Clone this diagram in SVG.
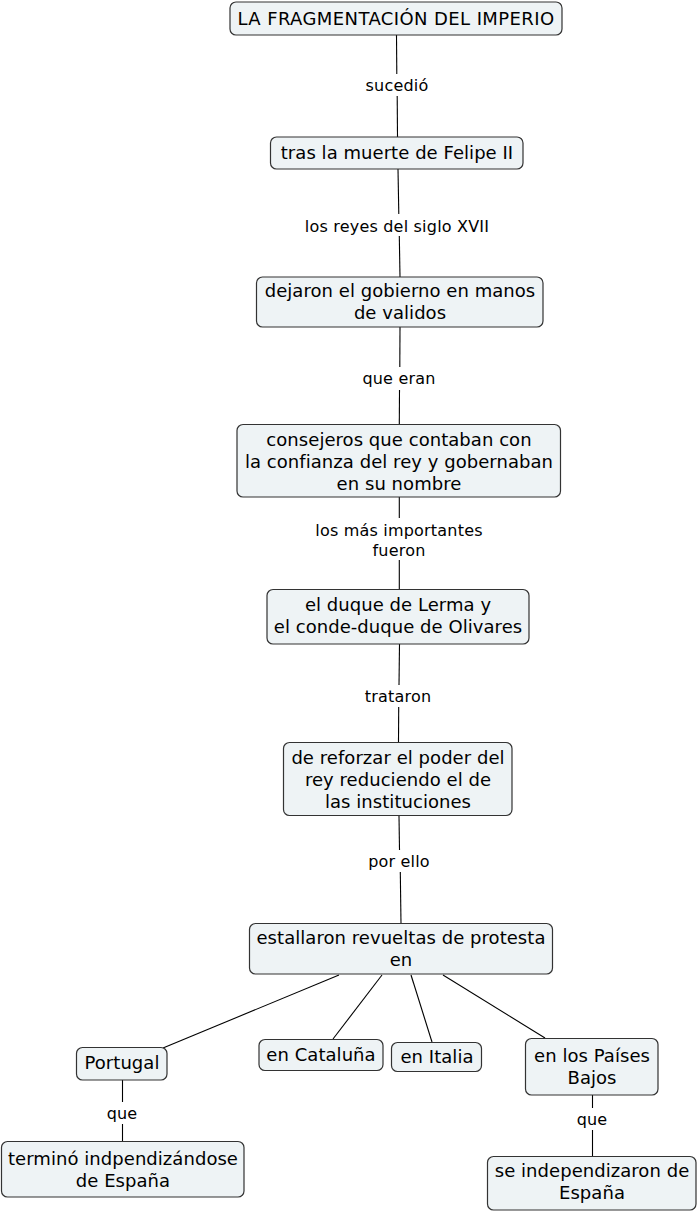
<svg xmlns="http://www.w3.org/2000/svg" width="698" height="1213" viewBox="0 0 698 1213">
<style>
.n rect{fill:#eef3f5;stroke:#333;stroke-width:1.2}
.n text{font-family:"DejaVu Sans",Verdana,sans-serif;font-size:18px;letter-spacing:0.05px;fill:#000;text-anchor:middle}
#n1 text{letter-spacing:0.4px}
.c line{stroke:#000;stroke-width:1.1}
.c text{font-family:"DejaVu Sans",Verdana,sans-serif;font-size:16px;letter-spacing:0.2px;fill:#000;text-anchor:middle}
</style>
<rect width="698" height="1213" fill="#fff"/>
<g class="c" id="connectors">
<line x1="396.5" y1="35" x2="396.8" y2="74"/><line x1="397.2" y1="96" x2="397.5" y2="137"/>
<text x="397" y="91">sucedió</text>
<line x1="398" y1="169" x2="398.8" y2="214"/><line x1="399.3" y1="236" x2="400" y2="277"/>
<text x="397" y="232">los reyes del siglo XVII</text>
<line x1="400" y1="327" x2="399.8" y2="367"/><line x1="399.5" y1="390" x2="399.3" y2="424"/>
<text x="399" y="384">que eran</text>
<line x1="399.3" y1="497" x2="399.3" y2="518"/><line x1="399.3" y1="560" x2="399.3" y2="589"/>
<text x="399" y="536">los más importantes</text>
<text x="399" y="556">fueron</text>
<line x1="399.5" y1="644" x2="399" y2="685"/><line x1="398.7" y1="707" x2="398.5" y2="742"/>
<text x="398" y="702">trataron</text>
<line x1="399" y1="816" x2="399.5" y2="850"/><line x1="400.3" y1="872" x2="401" y2="923"/>
<text x="399" y="867">por ello</text>
<line x1="339" y1="975" x2="163" y2="1048"/>
<line x1="382" y1="975" x2="333" y2="1039"/>
<line x1="411" y1="975" x2="432" y2="1042"/>
<line x1="443" y1="975" x2="545" y2="1038"/>
<line x1="122.5" y1="1080" x2="122.5" y2="1102"/><line x1="122.5" y1="1124" x2="122.5" y2="1142"/>
<text x="122" y="1119">que</text>
<line x1="592.5" y1="1095" x2="592.5" y2="1108"/><line x1="592.5" y1="1130" x2="592.5" y2="1156"/>
<text x="592" y="1125">que</text>
</g>
<g class="n" id="n1"><rect x="230" y="2" width="332" height="33" rx="6"/><text x="396" y="25">LA FRAGMENTACIÓN DEL IMPERIO</text></g>
<g class="n" id="n2"><rect x="270.5" y="137" width="252.5" height="32" rx="6"/><text x="397" y="159">tras la muerte de Felipe II</text></g>
<g class="n" id="n3"><rect x="256.5" y="277" width="286.5" height="50" rx="6"/><text x="400" y="297">dejaron el gobierno en manos</text><text x="400" y="319">de validos</text></g>
<g class="n" id="n4"><rect x="237" y="424.5" width="323.5" height="72.5" rx="6"/><text x="399" y="446">consejeros que contaban con</text><text x="399" y="468">la confianza del rey y gobernaban</text><text x="399" y="490">en su nombre</text></g>
<g class="n" id="n5"><rect x="267" y="589.5" width="262" height="54.5" rx="6"/><text x="398" y="611">el duque de Lerma y</text><text x="398" y="633">el conde-duque de Olivares</text></g>
<g class="n" id="n6"><rect x="283.5" y="742.5" width="228.5" height="73" rx="6"/><text x="398" y="764">de reforzar el poder del</text><text x="398" y="786">rey reduciendo el de</text><text x="398" y="808">las instituciones</text></g>
<g class="n" id="n7"><rect x="249.5" y="923.5" width="303" height="50.5" rx="6"/><text x="401" y="944">estallaron revueltas de protesta</text><text x="401" y="966">en</text></g>
<g class="n" id="n8"><rect x="76.5" y="1047.5" width="90.5" height="32.5" rx="6"/><text x="122" y="1069">Portugal</text></g>
<g class="n" id="n9"><rect x="259" y="1039.5" width="124" height="31" rx="6"/><text x="321" y="1061">en Cataluña</text></g>
<g class="n" id="n10"><rect x="391.5" y="1042.5" width="90" height="29" rx="6"/><text x="437" y="1063">en Italia</text></g>
<g class="n" id="n11"><rect x="525.5" y="1038.5" width="132.5" height="56.5" rx="6"/><text x="592" y="1062">en los Países</text><text x="592" y="1084">Bajos</text></g>
<g class="n" id="n12"><rect x="1.5" y="1141.5" width="242.5" height="55.5" rx="6"/><text x="123" y="1165">terminó indpendizándose</text><text x="123" y="1187">de España</text></g>
<g class="n" id="n13"><rect x="487.5" y="1156.5" width="208.5" height="53.5" rx="6"/><text x="592" y="1177">se independizaron de</text><text x="592" y="1199">España</text></g>
</svg>
